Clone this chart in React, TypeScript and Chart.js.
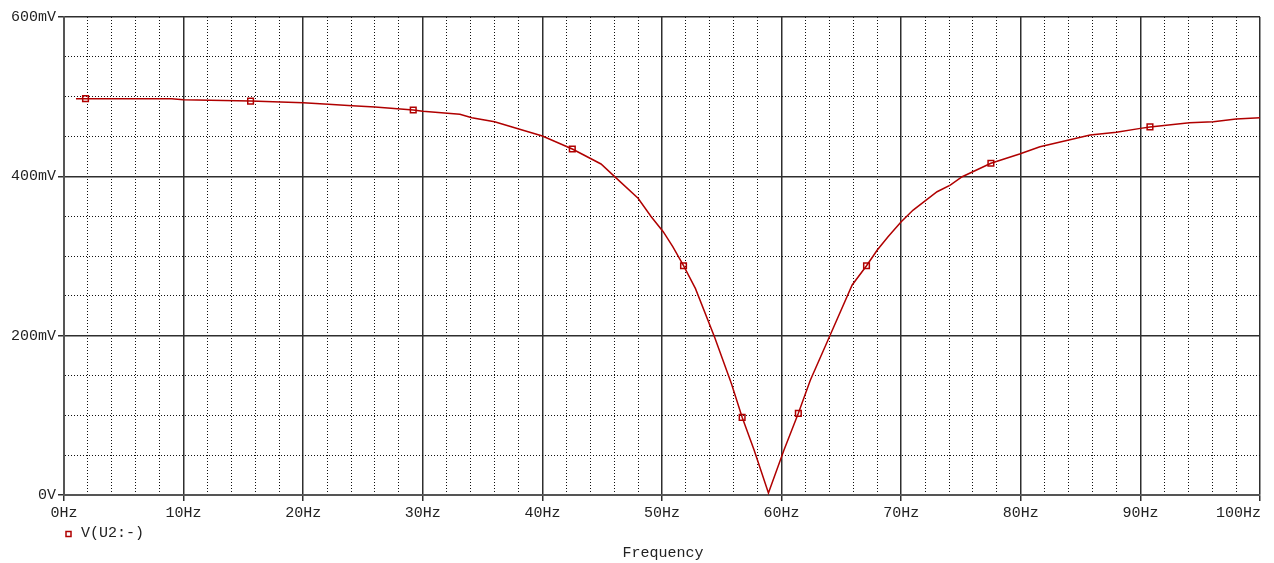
import React, { useEffect, useRef } from 'react';
import { Chart, registerables } from 'chart.js';

Chart.register(...registerables);

// ---- data ----
const FREQ_HZ = [
  1.0, 9.0, 10.0, 15.6, 20.0, 22.1, 24.1, 26.0, 29.2, 30.0,
  33.1, 34.1, 36.0, 38.1, 40.0, 42.5, 44.9, 46.2, 48.0, 49.1,
  50.1, 50.9, 51.8, 52.8, 54.4, 55.8, 56.7, 57.7, 58.9, 60.2,
  61.4, 62.4, 64.0, 65.9, 67.1, 68.0, 68.9, 70.0, 71.0, 73.0,
  74.1, 75.1, 77.5, 79.9, 81.6, 85.8, 88.0, 90.0, 90.8, 94.1,
  96.1, 98.0, 100,
];
const VOLT_MV = [
  497.5, 497.5, 496, 494.5, 492.5, 490.4, 488.7, 487, 483.3, 481.6,
  477.9, 473.6, 468.6, 459, 450.6, 434.3, 415.5, 397.5, 372.4, 349.3,
  330.5, 311.7, 287.8, 259, 198, 140, 97.5, 56.5, 2.5, 56.5,
  102.5, 144, 198.7, 263.6, 287.8, 307.5, 324.2, 343, 357.7, 380.7,
  389, 399.5, 416.4, 428, 437.2, 451.9, 455.2, 460.2, 462, 467.3,
  468.6, 472, 473.6,
];
const MARKER_FREQ_HZ = [1.8, 15.6, 29.2, 42.5, 51.8, 56.7, 61.4, 67.1, 77.5, 90.8];
const MARKER_VOLT_MV = [497.5, 494.5, 483.3, 434.3, 287.8, 97.5, 102.5, 287.8, 416.4, 462];

const X_TICK_VALUES = [0, 10, 20, 30, 40, 50, 60, 70, 80, 90, 100];
const X_TICK_LABELS = ['0Hz', '10Hz', '20Hz', '30Hz', '40Hz', '50Hz', '60Hz', '70Hz', '80Hz', '90Hz', '100Hz'];
const Y_TICK_VALUES = [0, 200, 400, 600];
const Y_TICK_LABELS = ['0V', '200mV', '400mV', '600mV'];
const SERIES_LABEL = 'V(U2:-)';
const X_TITLE = 'Frequency';

// ---- styles ----
const FONT_FAMILY = "'Liberation Mono', 'Courier New', monospace";
const FONT_SIZE = 15;
const TEXT_COLOR = '#222';
const SERIES_COLOR = '#b00000';
const MAJOR_COLOR = '#2e2e2e';
const MINOR_COLOR = '#111';

const near = (v: number, step: number) => Math.abs(v / step - Math.round(v / step)) < 1e-6;

const textPlugin = {
  id: 'pspiceText',
  afterDraw(chart: any) {
    const { ctx, chartArea } = chart;
    const xs = chart.scales.x;
    ctx.save();
    ctx.font = `${FONT_SIZE}px ${FONT_FAMILY}`;
    ctx.fillStyle = TEXT_COLOR;
    ctx.textBaseline = 'middle';
    // x tick labels
    X_TICK_VALUES.forEach((v, i) => {
      const px = xs.getPixelForValue(v);
      const label = X_TICK_LABELS[i];
      const w = ctx.measureText(label).width;
      if (px + w / 2 > chart.width) {
        ctx.textAlign = 'right';
        ctx.fillText(label, px + 1, chartArea.bottom + 18.5);
      } else {
        ctx.textAlign = 'center';
        ctx.fillText(label, px, chartArea.bottom + 18.5);
      }
    });
    // legend
    ctx.strokeStyle = SERIES_COLOR;
    ctx.lineWidth = 1.5;
    ctx.strokeRect(66, 531.5, 5, 5);
    ctx.textAlign = 'left';
    ctx.fillText(SERIES_LABEL, 81, 533.5);
    // axis title
    ctx.textAlign = 'center';
    ctx.fillText(X_TITLE, (chartArea.left + chartArea.right) / 2 + 1, 553);
    ctx.restore();
  },
};

function gridOpts(step: number) {
  const isMajor = (c: any) => (c && c.tick ? near(c.tick.value, step) : true);
  return {
    grid: {
      color: (c: any) => (isMajor(c) ? MAJOR_COLOR : MINOR_COLOR),
      lineWidth: (c: any) => (isMajor(c) ? 1.5 : 1),
      drawTicks: true,
      tickLength: 6,
      tickWidth: 1.5,
      tickColor: (c: any) => (isMajor(c) ? MAJOR_COLOR : 'rgba(0,0,0,0)'),
    },
    border: {
      display: true,
      color: '#555',
      width: 2,
      dash: (c: any) => (isMajor(c) ? [] : [1, 2]),
    },
  };
}

export default function App() {
  const canvasRef = useRef<HTMLCanvasElement | null>(null);

  useEffect(() => {
    const canvas = canvasRef.current;
    if (!canvas) return;
    const xGrid = gridOpts(10);
    const yGrid = gridOpts(200);
    const chart = new Chart(canvas, {
      type: 'line',
      data: {
        datasets: [
          {
            label: SERIES_LABEL,
            data: FREQ_HZ.map((f, i) => ({ x: f, y: VOLT_MV[i] })),
            borderColor: SERIES_COLOR,
            borderWidth: 1.5,
            pointRadius: 0,
            tension: 0,
            fill: false,
          },
          {
            label: SERIES_LABEL + ' markers',
            data: MARKER_FREQ_HZ.map((f, i) => ({ x: f, y: MARKER_VOLT_MV[i] })),
            showLine: false,
            pointStyle: 'rect',
            pointRadius: 4,
            pointBorderWidth: 1.5,
            pointBorderColor: SERIES_COLOR,
            pointBackgroundColor: 'rgba(0,0,0,0)',
          },
        ],
      },
      options: {
        responsive: false,
        animation: false,
        devicePixelRatio: 1,
        layout: { padding: { top: 17, right: 14, left: 0, bottom: 0 } },
        plugins: { legend: { display: false }, tooltip: { enabled: false } },
        scales: {
          x: {
            type: 'linear',
            min: 0,
            max: 100,
            ticks: { stepSize: 2, autoSkip: false, display: false },
            ...xGrid,
            afterFit: (s: any) => {
              s.height = 68;
              s.paddingLeft = 0;
              s.paddingRight = 0;
            },
          },
          y: {
            type: 'linear',
            min: 0,
            max: 600,
            ticks: {
              stepSize: 50,
              autoSkip: false,
              padding: 2,
              color: TEXT_COLOR,
              font: { family: FONT_FAMILY, size: FONT_SIZE },
              callback: (v: any) => {
                const idx = Y_TICK_VALUES.findIndex((t) => Math.abs(t - Number(v)) < 1e-6);
                return idx >= 0 ? Y_TICK_LABELS[idx] : '';
              },
            },
            ...yGrid,
            afterFit: (s: any) => {
              s.width = 64;
              s.paddingTop = 0;
              s.paddingBottom = 0;
            },
          },
        },
      },
      plugins: [textPlugin],
    } as any);
    return () => chart.destroy();
  }, []);

  return (
    <div style={{ position: 'fixed', left: 0, top: 0, width: 1274, height: 563, background: '#fff' }}>
      <canvas ref={canvasRef} width={1274} height={563} style={{ display: 'block' }} />
    </div>
  );
}
